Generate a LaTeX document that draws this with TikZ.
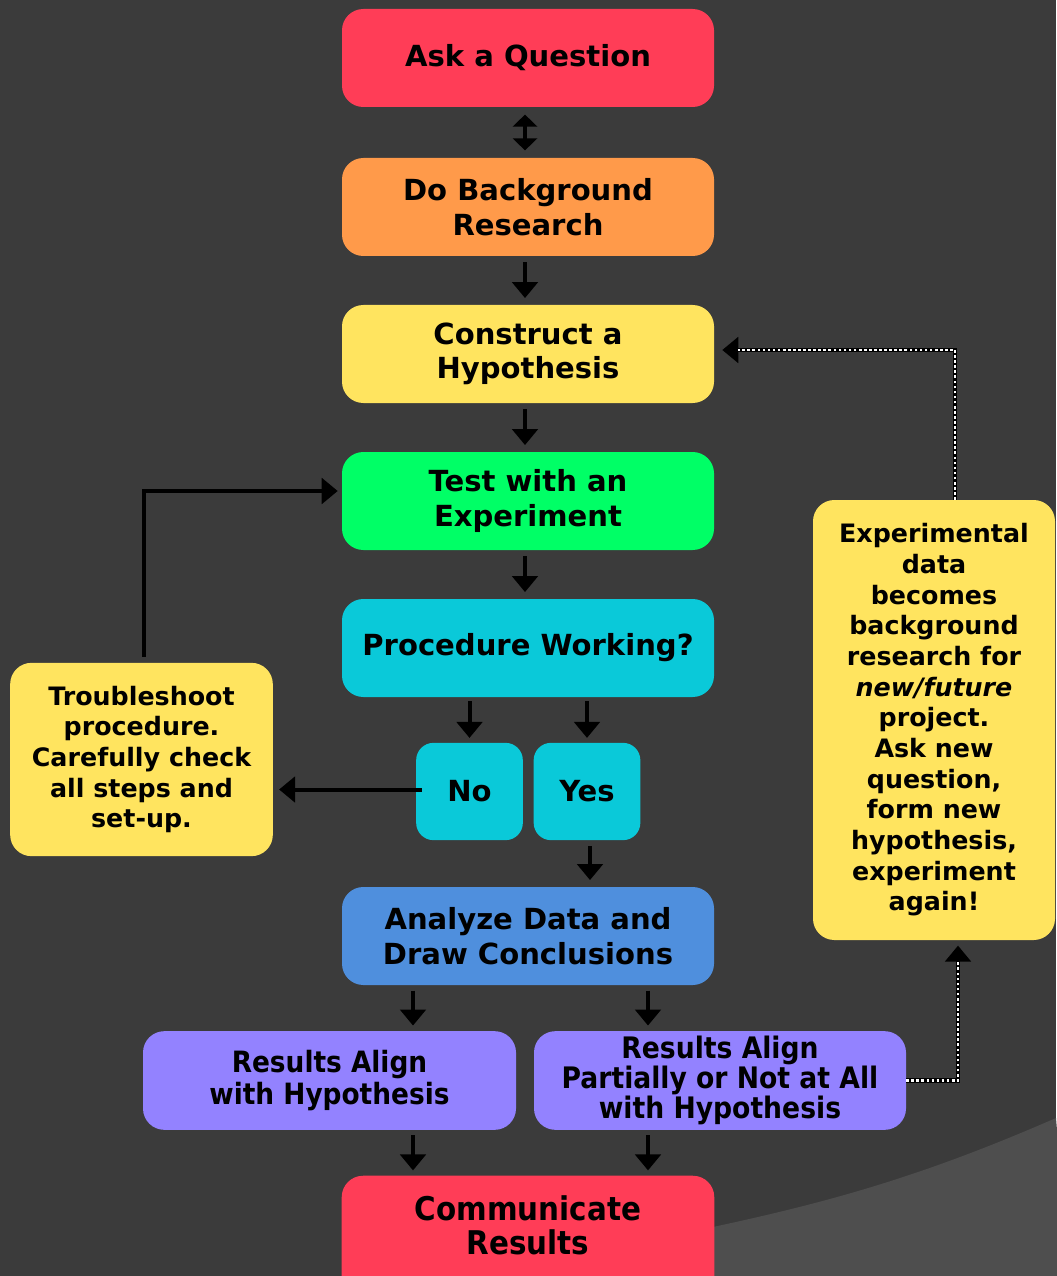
\documentclass[tikz,border=0pt]{standalone}
\usepackage{fontspec}
\setmainfont{DejaVu Sans}
\newfontfamily\condfont{DejaVu Sans Condensed}
\usetikzlibrary{arrows.meta,backgrounds}
\definecolor{bgdark}{HTML}{3B3B3B}
\definecolor{bglight}{HTML}{4E4E4E}
\definecolor{cred}{HTML}{FF3D57}
\definecolor{corange}{HTML}{FF9A4A}
\definecolor{cyellow}{HTML}{FFE45F}
\definecolor{cgreen}{HTML}{00FF66}
\definecolor{ccyan}{HTML}{0AC9D9}
\definecolor{cblue}{HTML}{4F8FDD}
\definecolor{cpurple}{HTML}{9382FF}
\begin{document}
\begin{tikzpicture}[x=0.75pt,y=-0.75pt,
  basebox/.style={rounded corners=16pt, align=center, text=black, inner sep=0pt},
  mainbox/.style={basebox, minimum width=279pt, minimum height=73.5pt,
     font=\bfseries\fontsize{21.8}{26}\selectfont},
  smallbox/.style={basebox, rounded corners=13pt, fill=ccyan, minimum width=80pt, minimum height=73pt,
     font=\bfseries\fontsize{21.8}{26}\selectfont},
  notebox/.style={basebox, fill=cyellow, font=\bfseries\fontsize{19}{23}\selectfont},
  resbox/.style={basebox, fill=cpurple, minimum width=279pt, minimum height=74pt},
  tip/.tip={Triangle[width=19pt,length=12pt]},
  shorttip/.tip={Triangle[width=18pt,length=9pt]},
  arr/.style={-tip, line width=3pt, black},
  dotarr/.style={-tip, line width=3.6pt, black, shorten >=#1,
     postaction={draw=white, -, line width=2pt, dash pattern=on 2pt off 1.8pt, shorten >=#1+12pt}}
]
\clip (0,0) rectangle (1056,1276);

% nodes
\node[mainbox, fill=cred] (ask) at (528,58) {Ask a Question};
\node[mainbox, fill=corange] (bg) at (528,207) {Do Background\\Research};
\node[mainbox, fill=cyellow] (hyp) at (528,354) {Construct a\\Hypothesis};
\node[mainbox, fill=cgreen] (test) at (528,501) {Test with an\\Experiment};
\node[mainbox, fill=ccyan] (proc) at (528,648) {Procedure Working?};
\node[smallbox] (no) at (469.5,791.5) {No};
\node[smallbox] (yes) at (587,791.5) {Yes};
\node[mainbox, fill=cblue] (an) at (528,936) {Analyze Data and\\Draw Conclusions};
\node[resbox, minimum width=279.75pt, font=\condfont\bfseries\fontsize{22}{24}\selectfont] (r1) at (329.5,1080.5) {Results Align\\with Hypothesis};
\node[resbox, font=\condfont\bfseries\fontsize{22.2}{20.2}\selectfont] (r2) at (720,1080.5) {Results Align\\Partially or Not at All\\with Hypothesis};
\node[mainbox, font=\condfont\bfseries\fontsize{24.5}{25.5}\selectfont] (comm) at (528,1225) {Communicate\\Results};
\node[notebox, minimum width=197pt, minimum height=145pt] (ts) at (141.5,759.5)
  {Troubleshoot\\procedure.\\Carefully check\\all steps and\\set-up.};
\node[notebox, minimum width=181.5pt, minimum height=330pt] (exp) at (934,720)
  {Experimental\\data\\becomes\\background\\research for\\\textit{new/future}\\project.\\Ask new\\question,\\form new\\hypothesis,\\experiment\\again!};

\begin{scope}[on background layer]
  \fill[bgdark] (0,0) rectangle (1056,1276);
  \fill[bglight] (1056,1118) .. controls (900,1186) and (800,1210) .. (640,1242)
     -- (640,1290) -- (1070,1290) -- cycle;
  \fill[cred, rounded corners=16pt] (comm.north west) rectangle ([yshift=-20pt]comm.south east);
\end{scope}

% main chain
\draw[arr, shorttip-shorttip, shorten <=5.5pt, shorten >=5.5pt] ([xshift=-2.25pt]ask.south) -- ([xshift=-2.25pt]bg.north);
\draw[arr, shorten <=4.5pt, shorten >=5pt] ([xshift=-2.25pt]bg.south) -- ([xshift=-2.25pt]hyp.north);
\draw[arr, shorten <=4.5pt, shorten >=5pt] ([xshift=-2.25pt]hyp.south) -- ([xshift=-2.25pt]test.north);
\draw[arr, shorten <=4.5pt, shorten >=5pt] ([xshift=-2.25pt]test.south) -- ([xshift=-2.25pt]proc.north);
\draw[arr, shorten <=3pt, shorten >=3.5pt] (no.north |- proc.south) -- (no.north);
\draw[arr, shorten <=3pt, shorten >=3.5pt] (yes.north |- proc.south) -- (yes.north);
\draw[arr, shorten <=4pt, shorten >=5pt] ([xshift=2.25pt]yes.south) -- ([xshift=2.25pt]yes.south |- an.north);
\draw[arr, shorten <=4pt, shorten >=4pt] ([xshift=-86.25pt]an.south) -- ([xshift=-86.25pt]an.south |- r1.north);
\draw[arr, shorten <=4pt, shorten >=4pt] ([xshift=90pt]an.south) -- ([xshift=90pt]an.south |- r2.north);
\draw[arr, shorten <=4pt, shorten >=4pt] ([xshift=-86.25pt]comm.north |- r1.south) -- ([xshift=-86.25pt]comm.north);
\draw[arr, shorten <=4pt, shorten >=4pt] ([xshift=90pt]comm.north |- r2.south) -- ([xshift=90pt]comm.north);

% troubleshoot loop
\draw[arr, shorten <=-4.5pt, shorten >=4.5pt] ([yshift=1.5pt]no.west) -- ([yshift=1.5pt]no.west -| ts.east);
\draw[arr, shorten <=4.5pt, shorten >=3pt] ([xshift=1.5pt]ts.north) |- ([yshift=7.5pt]test.west);

% dotted feedback
\draw[dotarr=6pt] ([xshift=15.75pt]exp.north) |- ([yshift=3pt]hyp.east);
\draw[dotarr=4pt] (r2.east) -| ([xshift=18pt]exp.south);
\end{tikzpicture}
\end{document}
